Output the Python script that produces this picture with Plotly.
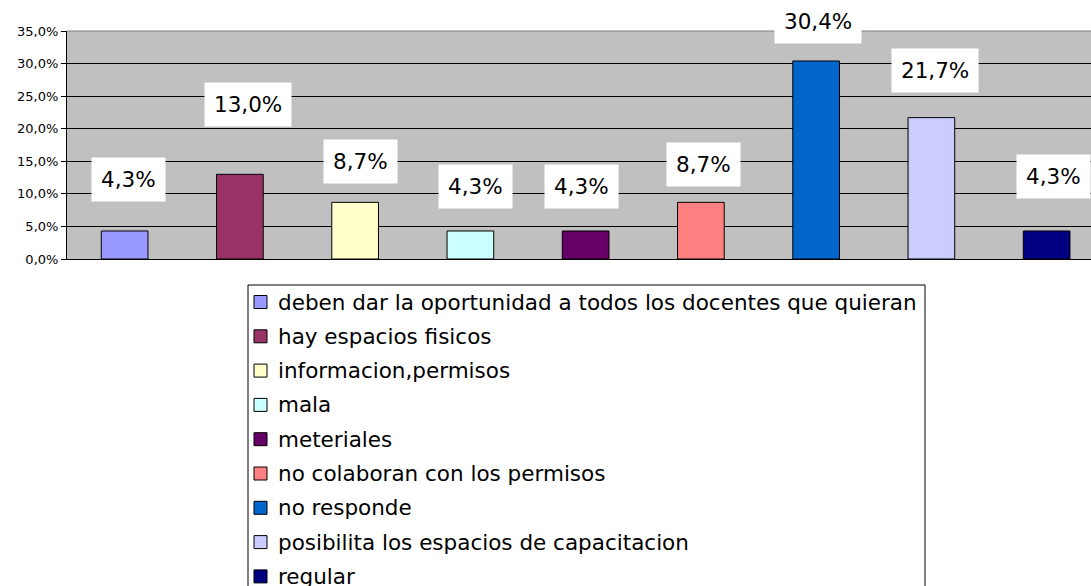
import plotly.graph_objects as go

# Survey answers and their share of responses (%)
categories = [
    "deben dar la oportunidad a todos los docentes que quieran",
    "hay espacios fisicos",
    "informacion,permisos",
    "mala",
    "meteriales",
    "no colaboran con los permisos",
    "no responde",
    "posibilita los espacios de capacitacion",
    "regular",
]
values = [4.3, 13.0, 8.7, 4.3, 4.3, 8.7, 30.4, 21.7, 4.3]
colors = ["#9999FF", "#993366", "#FFFFCC", "#CCFFFF", "#660066",
          "#FF8080", "#0066CC", "#CCCCFF", "#000080"]

# label placement tweaks (pixels) relative to each bar top
label_dx = [4, 8, 5, 5, -4, 3, 2, 4, 7]
label_dy = [51, 70, 41, 44, 44, 38, 39, 47, 54]

y_ticks = [0, 5, 10, 15, 20, 25, 30, 35]
y_ticktext = [f"{t:.1f}".replace(".", ",") + "%" for t in y_ticks]

W, H = 1091, 586
ML, MT, MB = 67, 31, 327
PW, PH = W - ML, H - MT - MB
FONT = "DejaVu Sans, Liberation Sans, Arial"


def px_to_paper(px, py):
    return (px - ML) / PW, (H - MB - py) / PH


fig = go.Figure()
for i, (name, v, c) in enumerate(zip(categories, values, colors)):
    fig.add_trace(go.Bar(
        x=[i], y=[v], name=name, width=0.405,
        marker=dict(color=c, line=dict(color="black", width=1)),
        hoverinfo="skip", showlegend=False,
    ))
    fig.add_annotation(
        x=i, y=v, xref="x", yref="y",
        text=f"{v:.1f}".replace(".", ",") + "%",
        showarrow=False, xanchor="center", yanchor="middle",
        xshift=label_dx[i], yshift=label_dy[i],
        bgcolor="white", borderpad=9,
        font=dict(family=FONT, size=21.5, color="black"),
    )

# top edge of the plot area
fig.add_shape(type="line", xref="paper", yref="paper", x0=0, x1=1, y0=1, y1=1,
              line=dict(color="#808080", width=1), layer="above")

# legend box below the chart
bx0, by0 = px_to_paper(248, 285)
bx1, by1 = px_to_paper(925, 600)
fig.add_shape(type="rect", xref="paper", yref="paper",
              x0=bx0, y0=by0, x1=bx1, y1=by1,
              line=dict(color="black", width=1), fillcolor="white")

row_top, row_step = 302, 34.3
for k, (name, c) in enumerate(zip(categories, colors)):
    cy = row_top + k * row_step
    sx0, sy0 = px_to_paper(254, cy - 6.5)
    sx1, sy1 = px_to_paper(267, cy + 6.5)
    fig.add_shape(type="rect", xref="paper", yref="paper",
                  x0=sx0, y0=sy0, x1=sx1, y1=sy1,
                  line=dict(color="black", width=1), fillcolor=c)
    tx, ty = px_to_paper(276, cy)
    fig.add_annotation(
        x=tx, y=ty, xref="paper", yref="paper", text=name,
        showarrow=False, xanchor="left", yanchor="middle",
        font=dict(family=FONT, size=21.5, color="black"),
    )

fig.update_layout(
    width=W, height=H,
    margin=dict(l=ML, r=0, t=MT, b=MB, autoexpand=False),
    paper_bgcolor="white", plot_bgcolor="#C0C0C0",
    barmode="overlay", showlegend=False,
    font=dict(family=FONT, color="black"),
)
fig.update_xaxes(
    range=[-0.5, 8.385], showticklabels=False, ticks="",
    showgrid=False, zeroline=False, showline=True,
    linecolor="black", linewidth=1,
)
fig.update_yaxes(
    range=[0, 35], tickvals=y_ticks, ticktext=y_ticktext,
    ticks="outside", ticklen=5, tickcolor="black",
    showgrid=True, gridcolor="black", gridwidth=1, zeroline=False,
    showline=True, linecolor="black", linewidth=1,
    tickfont=dict(family=FONT, size=13, color="black"),
)

fig.write_html("out.html")
